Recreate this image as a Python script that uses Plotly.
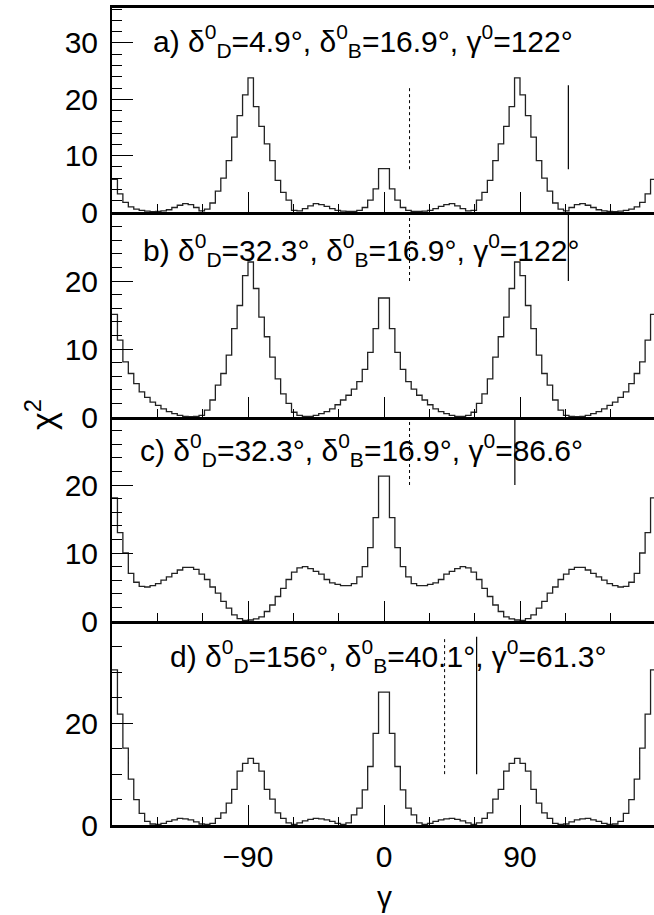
import numpy as np
import plotly.graph_objects as go

# ---- data ----
gamma_edges = np.linspace(-180, 180, 101)

chi2_a = [5.8, 3.2, 1.7, 0.9, 0.5, 0.3, 0.15, 0.05, 0.1, 0.2,
          0.4, 0.8, 1.2, 1.5, 1.3, 0.8, 0.2, 0.5, 1.6, 3.7,
          6.0, 9.1, 13.3, 17.1, 20.8, 23.8, 18.7, 15.2, 12.1, 9.1,
          5.6, 3.5, 2.1, 0.3, 0.2, 0.6, 1.1, 1.5, 1.3, 1.0,
          0.6, 0.3, 0.15, 0.1, 0.1, 0.3, 0.8, 2.1, 4.1, 7.7,
          7.7, 4.1, 2.1, 0.8, 0.3, 0.1, 0.1, 0.15, 0.3, 0.6,
          1.0, 1.3, 1.5, 1.1, 0.6, 0.2, 0.3, 2.1, 3.5, 5.6,
          9.1, 12.1, 15.2, 18.7, 23.8, 20.8, 17.1, 13.3, 9.1, 6.0,
          3.7, 1.6, 0.5, 0.2, 0.8, 1.3, 1.5, 1.2, 0.8, 0.4,
          0.2, 0.1, 0.05, 0.15, 0.3, 0.5, 0.9, 1.7, 3.2, 5.8]

chi2_b = [15.1, 11.3, 8.1, 6.4, 4.9, 3.7, 2.9, 2.2, 1.7, 1.2,
          0.8, 0.5, 0.25, 0.1, 0.05, 0.1, 0.25, 1.0, 2.5, 4.7,
          6.4, 9.1, 13.0, 16.4, 20.8, 22.8, 18.9, 14.7, 11.8, 8.8,
          5.6, 3.4, 2.0, 0.7, 0.25, 0.1, 0.1, 0.25, 0.5, 0.8,
          1.2, 1.8, 2.5, 3.2, 4.1, 5.2, 7.0, 9.5, 13.0, 17.5,
          17.5, 13.0, 9.5, 7.0, 5.2, 4.1, 3.2, 2.5, 1.8, 1.2,
          0.8, 0.5, 0.25, 0.1, 0.1, 0.25, 0.7, 2.0, 3.4, 5.6,
          8.8, 11.8, 14.7, 18.9, 22.8, 20.8, 16.4, 13.0, 9.1, 6.4,
          4.7, 2.5, 1.0, 0.25, 0.1, 0.05, 0.1, 0.25, 0.5, 0.8,
          1.2, 1.7, 2.2, 2.9, 3.7, 4.9, 6.4, 8.1, 11.3, 15.1]

chi2_c = [18.1, 13.0, 10.0, 7.0, 5.7, 5.1, 5.0, 5.2, 5.5, 6.0,
          6.5, 7.0, 7.5, 7.9, 7.9, 7.6, 6.9, 6.1, 5.0, 4.1,
          2.9, 1.9, 0.9, 0.35, 0.1, 0.15, 0.3, 0.6, 1.4, 2.35,
          3.6, 4.8, 6.1, 7.2, 7.8, 8.0, 7.7, 7.3, 6.9, 6.1,
          5.6, 5.4, 5.2, 5.2, 5.5, 6.5, 8.0, 10.8, 15.2, 21.3,
          21.3, 15.2, 10.8, 8.0, 6.5, 5.5, 5.2, 5.2, 5.4, 5.6,
          6.1, 6.9, 7.3, 7.7, 8.0, 7.8, 7.2, 6.1, 4.8, 3.6,
          2.35, 1.4, 0.6, 0.3, 0.15, 0.1, 0.35, 0.9, 1.9, 2.9,
          4.1, 5.0, 6.1, 6.9, 7.6, 7.9, 7.9, 7.5, 7.0, 6.5,
          6.0, 5.5, 5.2, 5.0, 5.1, 5.7, 7.0, 10.0, 13.0, 18.1]

chi2_d = [30.5, 21.8, 15.1, 9.0, 5.0, 2.3, 0.7, 0.2, 0.1, 0.3,
          0.7, 1.0, 1.3, 1.2, 1.0, 0.6, 0.2, 0.1, 0.3, 1.3,
          2.4, 4.3, 7.0, 10.6, 12.1, 13.1, 12.1, 10.6, 7.0, 5.1,
          2.4, 1.3, 0.4, 0.1, 0.4, 0.8, 1.1, 1.3, 1.2, 1.0,
          0.7, 0.3, 0.1, 0.4, 2.0, 3.3, 6.9, 11.5, 18.0, 26.1,
          26.1, 18.0, 11.5, 6.9, 3.3, 2.0, 0.4, 0.1, 0.3, 0.7,
          1.0, 1.2, 1.3, 1.1, 0.8, 0.4, 0.1, 0.4, 1.3, 2.4,
          5.1, 7.0, 10.6, 12.1, 13.1, 12.1, 10.6, 7.0, 4.3, 2.4,
          1.3, 0.3, 0.1, 0.2, 0.6, 1.0, 1.2, 1.3, 1.0, 0.7,
          0.3, 0.1, 0.2, 0.7, 2.3, 5.0, 9.0, 15.1, 21.8, 30.5]

panel_labels = ["a)", "b)", "c)", "d)"]
delta_D0 = ["4.9", "32.3", "32.3", "156"]
delta_B0 = [16.9, 16.9, 16.9, 40.1]
gamma0 = [122, 122, 86.6, 61.3]
gamma0_txt = ["122", "122", "86.6", "61.3"]

x_tickvals = [-90, 0, 90]
x_ticktext = ["\u221290", "0", "90"]
y_tickvals = [[0, 10, 20, 30], [0, 10, 20], [0, 10, 20], [0, 20]]

# ---- layout constants ----
W, H = 654, 915
ML, MR, MT, MB = 112, 0, 8, 90
PX_PER_DEG = 136 / 90.0
plot_w = W - ML - MR
plot_h = H - MT - MB
x_max = -180 + plot_w / PX_PER_DEG

panel_px = [(8, 212), (212, 417), (417, 621), (621, 825)]   # top, bottom in pixels
y_ranges = [36.2, 30.15, 30.0, 40.1]
y_minor = [2, 2, 2, 5]
marker_span = [(7.6, 22.5), (20, 30.15), (20, 30.0), (10, 37)]
text_pos = [(-154.0, 30.4), (-161.0, 24.6), (-163.0, 25.1), (-143.0, 33.2)]

series = [chi2_a, chi2_b, chi2_c, chi2_d]

fig = go.Figure()
FONT = "Liberation Sans"
LINE_COL = "#222222"

for i in range(4):
    n = i + 1
    xa = "x" if n == 1 else f"x{n}"
    ya = "y" if n == 1 else f"y{n}"
    vals = list(series[i])
    fig.add_trace(go.Scatter(
        x=gamma_edges, y=vals + [vals[-1]], mode="lines",
        line=dict(shape="hv", color=LINE_COL, width=1.3),
        xaxis=xa, yaxis=ya, showlegend=False, hoverinfo="skip"))
    lo, hi = marker_span[i]
    fig.add_trace(go.Scatter(
        x=[delta_B0[i], delta_B0[i]], y=[lo, hi], mode="lines",
        line=dict(color="black", width=1, dash="dot"),
        xaxis=xa, yaxis=ya, showlegend=False, hoverinfo="skip"))
    fig.add_trace(go.Scatter(
        x=[gamma0[i], gamma0[i]], y=[lo, hi], mode="lines",
        line=dict(color="black", width=1.2),
        xaxis=xa, yaxis=ya, showlegend=False, hoverinfo="skip"))

    top, bot = panel_px[i]
    dom = [(H - MB - bot) / plot_h, (H - MB - top) / plot_h]
    xkey = "xaxis" if n == 1 else f"xaxis{n}"
    ykey = "yaxis" if n == 1 else f"yaxis{n}"
    fig.layout[xkey] = dict(
        range=[-180, x_max], anchor=ya, domain=[0, 1],
        showline=True, linewidth=2.5, linecolor="black",
        mirror=(n == 1), showgrid=False, zeroline=False,
        tickmode="array", tickvals=x_tickvals, ticktext=x_ticktext,
        ticks="inside", ticklen=20, tickwidth=1, tickcolor="black",
        minor=dict(tickmode="array", tickvals=[-150, -120, -60, -30, 30, 60, 120, 150],
                   ticks="inside", ticklen=8, tickwidth=1, tickcolor="black"),
        showticklabels=(n == 4),
        tickfont=dict(family=FONT, size=30, color="black"),
        ticklabelstandoff=3,
    )
    fig.layout[ykey] = dict(
        range=[0, y_ranges[i]], domain=dom, anchor=xa,
        showline=True, linewidth=2, linecolor="black",
        showgrid=False, zeroline=False,
        tickmode="array", tickvals=y_tickvals[i],
        ticks="inside", ticklen=21, tickwidth=1, tickcolor="black",
        minor=dict(dtick=y_minor[i], tick0=0, ticks="inside", ticklen=10,
                   tickwidth=1, tickcolor="black"),
        tickfont=dict(family=FONT, size=30, color="black"),
        ticklabelstandoff=6,
    )
    txt = (f"{panel_labels[i]} \u03b4<sup>0</sup><sub>D</sub>={delta_D0[i]}\u00b0, "
           f"\u03b4<sup>0</sup><sub>B</sub>={delta_B0[i]}\u00b0, "
           f"\u03b3<sup>0</sup>={gamma0_txt[i]}\u00b0")
    tx, ty = text_pos[i]
    fig.add_annotation(x=tx, y=ty, xref=xa, yref=ya, text=txt, showarrow=False,
                       xanchor="left", yanchor="middle",
                       font=dict(family=FONT, size=30, color="black"))

# axis titles
fig.add_annotation(x=0, y=-(896 - 825) / plot_h, xref="x4", yref="paper",
                   yanchor="middle", text="\u03b3", showarrow=False,
                   font=dict(family=FONT, size=30, color="black"))
fig.add_annotation(x=(40 - ML) / plot_w, y=(H - MB - 415) / plot_h,
                   xref="paper", yref="paper",
                   text="\u03c7<sup>2</sup>", showarrow=False, textangle=-90,
                   xanchor="center", yanchor="middle",
                   font=dict(family=FONT, size=34, color="black"))

fig.update_layout(
    width=W, height=H,
    margin=dict(l=ML, r=MR, t=MT, b=MB, pad=0),
    paper_bgcolor="white", plot_bgcolor="white",
    showlegend=False,
)

fig.write_html("out.html", config={"displayModeBar": False},
               post_script="document.body.style.margin='0';document.body.style.padding='0';")
